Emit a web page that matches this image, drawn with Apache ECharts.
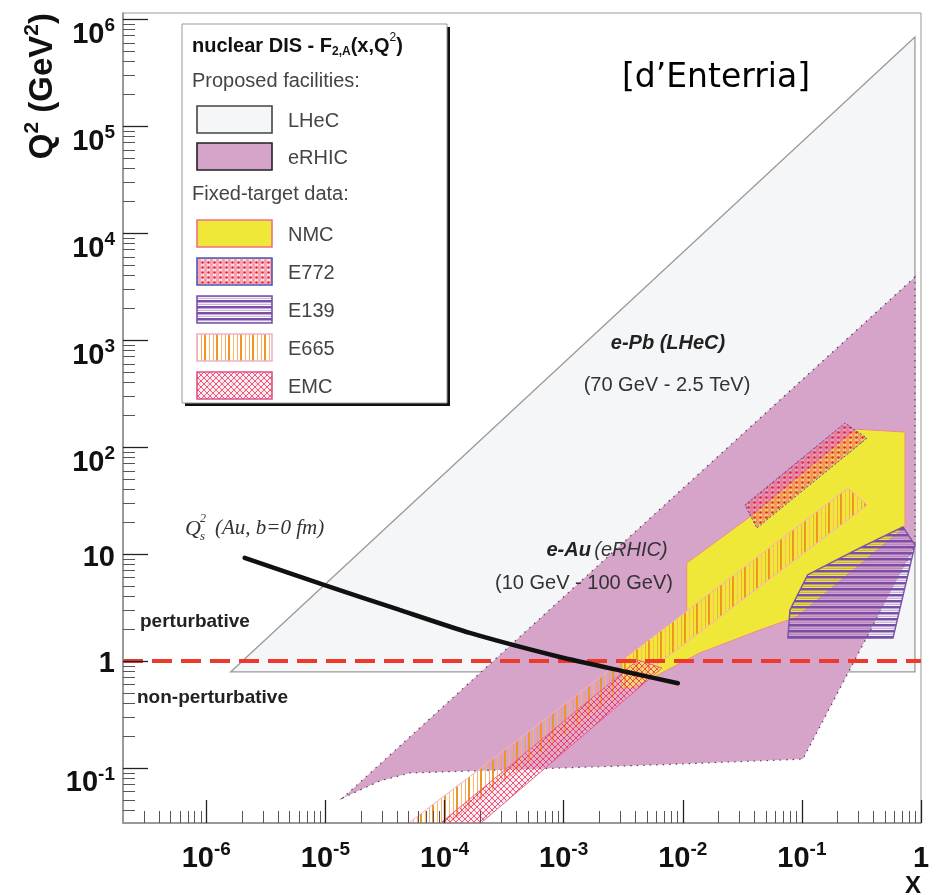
<!DOCTYPE html>
<html><head><meta charset="utf-8">
<script src="https://cdn.jsdelivr.net/npm/echarts@6/dist/echarts.min.js"></script>
<style>html,body{margin:0;padding:0;background:#fff}#c{width:936px;height:895px}</style>
</head><body><div id="c"></div>
<script>
// ---------- axis ranges & ticks ----------
const xMin = 2e-7, xMax = 1;
const yMin = 0.0306, yMax = 1.14e6;
const xTickValues = [1e-6, 1e-5, 1e-4, 1e-3, 1e-2, 1e-1, 1];
const xTickLabels = ['{b|10}{s|-6}', '{b|10}{s|-5}', '{b|10}{s|-4}', '{b|10}{s|-3}', '{b|10}{s|-2}', '{b|10}{s|-1}', '{b|1}'];
const yTickValues = [1e-1, 1, 10, 1e2, 1e3, 1e4, 1e5, 1e6];
const yTickLabels = ['{b|10}{s|-1}', '{p|1}', '{p|10}', '{b|10}{s|2}', '{b|10}{s|3}', '{b|10}{s|4}', '{b|10}{s|5}', '{b|10}{s|6}'];

// ---------- regions (x, Q^2) ----------
const lhecX = [1.6e-6, 0.89, 0.89];
const lhecY = [0.79, 6.8e5, 0.79];

const erhicX = [0.89, 1.40e-5, 2.86e-5, 5.1e-5, 6.06e-3, 0.102, 0.89];
const erhicY = [3880, 0.0525, 0.0756, 0.0898, 0.107, 0.121, 12.1];

const nmcX = [3.08e-3, 3.08e-3, 0.0108, 0.0108, 0.0373, 0.284, 0.734, 0.734, 0.0908, 0.0444, 0.0139, 7.35e-3, 3.81e-3];
const nmcY = [0.56, 1.02, 2.93, 8.24, 22.6, 147, 138, 17.9, 2.58, 1.95, 1.19, 0.82, 0.56];

const e665X = [4.9e-5, 0.244, 0.352, 1.06e-4];
const e665Y = [0.03, 41.4, 28.7, 0.03];

const emcX = [9.1e-5, 4.2e-3, 6.7e-3, 1.98e-4];
const emcY = [0.03, 1.02, 0.86, 0.03];

const e772X = [0.0332, 0.230, 0.352, 0.0419];
const e772Y = [28.7, 168, 121, 17.5];

const e139X = [0.0763, 0.0794, 0.112, 0.307, 0.706, 0.89, 0.582];
const e139Y = [1.64, 3.0, 6.4, 11.4, 17.9, 12.1, 1.64];

// saturation scale line Qs^2(Au, b=0 fm)
const qsX = [2.10e-6, 9.86e-6, 4.2e-5, 1.63e-4, 9.3e-4, 3.39e-3, 9.1e-3];
const qsY = [9.2, 5.13, 3.0, 1.83, 1.09, 0.79, 0.62];

// perturbative boundary Q^2 = 1 GeV^2
const boundX = [2e-7, 1];
const boundY = [1, 1];

// ---------- minor ticks (2..9 x 10^n) ----------
function minors(lo, hi, eLo, eHi) {
  const out = [];
  for (let e = eLo; e <= eHi; e++) for (let m = 2; m <= 9; m++) {
    const v = m * Math.pow(10, e);
    if (v > lo * 1.0001 && v < hi * 0.9999) out.push(v);
  }
  return out;
}
const xMinor = minors(xMin, xMax, -7, -1);
const yMinor = minors(yMin, yMax, -2, 5);

// ---------- patterns ----------
function pat(w, h, draw) {
  const c = document.createElement('canvas'); c.width = w; c.height = h;
  const g = c.getContext('2d'); draw(g);
  return { image: c, repeat: 'repeat' };
}
const patE665 = pat(12, 4, g => {
  g.fillStyle = '#f29424'; g.fillRect(0, 0, 2, 4);
  g.fillStyle = 'rgba(248,182,100,0.9)'; g.fillRect(5, 0, 1, 4);
  g.fillStyle = 'rgba(244,160,70,0.85)'; g.fillRect(9, 0, 1, 4);
});
const patEMC = pat(6, 6, g => {
  g.fillStyle = 'rgba(255,190,210,0.3)'; g.fillRect(0, 0, 6, 6);
  g.strokeStyle = 'rgba(228,30,70,0.8)'; g.lineWidth = 0.9;
  g.beginPath(); g.moveTo(0, 0); g.lineTo(6, 6); g.moveTo(6, 0); g.lineTo(0, 6); g.stroke();
});
const patE772 = pat(6, 5, g => {
  g.fillStyle = 'rgba(240,100,130,0.6)'; g.fillRect(0, 0, 3, 5);
  g.fillStyle = 'rgba(245,150,170,0.3)'; g.fillRect(3, 0, 3, 5);
  g.fillStyle = '#e3202a'; g.beginPath(); g.arc(4.5, 2.5, 1.3, 0, Math.PI * 2); g.fill();
});
const patE139 = pat(4, 6, g => {
  g.fillStyle = '#7a4ea6'; g.fillRect(0, 0, 4, 2.5);
  g.fillStyle = 'rgba(150,110,195,0.6)'; g.fillRect(0, 3.8, 4, 1);
});

const colLHeC = '#f4f6f8', colERHIC = '#d6a3c9', colNMC = '#f0e838';

// ---------- series builders ----------
function polySeries(name, xs, ys, style) {
  const pts = xs.map((x, i) => [x, ys[i]]);
  return {
    type: 'custom', name, coordinateSystem: 'cartesian2d', xAxisIndex: 0, yAxisIndex: 0,
    data: pts, clip: true, silent: true, encode: { x: 0, y: 1 },
    renderItem(params, api) {
      if (params.dataIndex !== 0) return null;
      return { type: 'polygon', shape: { points: pts.map(p => api.coord(p)) }, style: style };
    }
  };
}
function lineSeries(name, xs, ys, lineStyle, smooth) {
  return {
    type: 'line', name, xAxisIndex: 0, yAxisIndex: 0, data: xs.map((x, i) => [x, ys[i]]),
    showSymbol: false, symbol: 'none', smooth: smooth || false, silent: true, lineStyle
  };
}

const sans = '"Liberation Sans", Arial, Helvetica, sans-serif';
const richAxis = {
  b: { fontSize: 29, fontWeight: 'bold', fontFamily: sans, color: '#111', lineHeight: 30, padding: [16, 0, 0, 0], verticalAlign: 'top' },
  s: { fontSize: 19, fontWeight: 'bold', fontFamily: sans, color: '#111', lineHeight: 14, padding: [12, 0, 0, 0], verticalAlign: 'top' },
  p: { fontSize: 29, fontWeight: 'bold', fontFamily: sans, color: '#111', lineHeight: 30, padding: [4, 0, 0, 0], verticalAlign: 'top' }
};
function labelFor(values, labels) {
  return function (v) {
    let best = 0, bd = Infinity;
    values.forEach((t, i) => { const d = Math.abs(Math.log10(t) - Math.log10(v)); if (d < bd) { bd = d; best = i; } });
    return labels[best];
  };
}

// ---------- text helpers ----------
function T(x, y, text, font, fill, align, extra) {
  return Object.assign({
    type: 'text', x, y, z: 100, silent: true,
    style: { text, font, fill: fill || '#222', align: align || 'left', verticalAlign: 'middle', textAlign: align || 'left', textVerticalAlign: 'middle' }
  }, extra || {});
}
function R(x, y, w, h, fill, stroke, lw) {
  return { type: 'rect', z: 100, silent: true, shape: { x, y, width: w, height: h }, style: { fill, stroke, lineWidth: lw || 1 } };
}

const legendItems = [
  ['LHeC', colLHeC, '#444', 106],
  ['eRHIC', colERHIC, '#222', 143],
  ['NMC', colNMC, '#ee7080', 220],
  ['E772', patE772, '#4a5ab5', 258],
  ['E139', patE139, '#7a52a8', 296],
  ['E665', patE665, '#f2b0cc', 334],
  ['EMC', patEMC, '#e0508a', 372]
];

const graphics = [
  R(185, 27, 265, 379, '#111', null, 0),
  R(182, 24, 265, 379, '#fff', '#999', 1),
  {
    type: 'text', x: 192, y: 43, z: 101, silent: true,
    style: {
      text: '{h|nuclear DIS - F}{sub|2,A}{h|(x,Q}{sup|2}{h|)}', align: 'left', verticalAlign: 'middle',
      rich: {
        h: { fontSize: 20, fontWeight: 'bold', fontFamily: sans, fill: '#111', lineHeight: 22, padding: [4, 0, 0, 0], verticalAlign: 'top' },
        sub: { fontSize: 12, fontWeight: 'bold', fontFamily: sans, fill: '#111', lineHeight: 12, padding: [14, 0, 0, 0], verticalAlign: 'top' },
        sup: { fontSize: 12, fontFamily: sans, fill: '#111', lineHeight: 12, padding: [0, 0, 0, 0], verticalAlign: 'top' }
      }
    }
  },
  T(192, 81, 'Proposed facilities:', '20px ' + sans, '#444'),
  T(192, 194, 'Fixed-target data:', '20px ' + sans, '#444')
];
legendItems.forEach(([name, fill, stroke, y]) => {
  graphics.push(R(197, y, 75, 27, '#fff', null, 0));
  graphics.push(R(197, y, 75, 27, fill, stroke, 1.6));
  graphics.push(T(288, y + 15, name, '20px ' + sans, '#444'));
});

graphics.push(
  T(716, 78, '[d\u2019Enterria]', '33px "DejaVu Sans", sans-serif', '#000', 'center'),
  T(668, 343, 'e-Pb (LHeC)', 'italic bold 20px ' + sans, '#222', 'center'),
  T(667, 385, '(70 GeV - 2.5 TeV)', '20px ' + sans, '#333', 'center'),
  {
    type: 'text', x: 607, y: 550, z: 100, silent: true,
    style: {
      text: '{a|e-Au} {c|(eRHIC)}', align: 'center', verticalAlign: 'middle',
      rich: {
        a: { fontSize: 20, fontWeight: 'bold', fontStyle: 'italic', fontFamily: sans, fill: '#222' },
        c: { fontSize: 20, fontStyle: 'italic', fontFamily: sans, fill: '#333' }
      }
    }
  },
  T(584, 583, '(10 GeV - 100 GeV)', '20px ' + sans, '#333', 'center'),
  T(140, 622, 'perturbative', 'bold 19px ' + sans, '#222'),
  T(137, 698, 'non-perturbative', 'bold 19px ' + sans, '#222'),
  T(185, 529, 'Q', 'italic 22px "Liberation Serif", serif', '#333'),
  T(200, 519, '2', 'italic 12px "Liberation Serif", serif', '#333'),
  T(200, 537, 's', 'italic 13px "Liberation Serif", serif', '#333'),
  T(215, 528, '(Au, b=0 fm)', 'italic 21px "Liberation Serif", serif', '#333'),
  T(921, 886, 'X', 'bold 24px ' + sans, '#111', 'right'),
  {
    type: 'text', x: 34, y: 13, rotation: Math.PI / 2, z: 100, silent: true,
    style: {
      text: '{b|Q}{s|2}{b| (GeV}{s|2}{b|)}', align: 'right', verticalAlign: 'middle',
      rich: {
        b: { fontSize: 33, fontWeight: 'bold', fontFamily: sans, fill: '#111', lineHeight: 32, padding: [8, 0, 0, 0], verticalAlign: 'top' },
        s: { fontSize: 21, fontWeight: 'bold', fontFamily: sans, fill: '#111', lineHeight: 16, padding: [4, 0, 0, 0], verticalAlign: 'top' }
      }
    }
  }
);

const axisCommon = { type: 'log', logBase: 10, splitLine: { show: false }, minorTick: { show: false }, minorSplitLine: { show: false }, z: 10 };

const option = {
  animation: false,
  grid: { left: 123, right: 15, top: 13, bottom: 72, show: true, borderColor: '#999', borderWidth: 1, backgroundColor: '#fff', containLabel: false },
  xAxis: [
    Object.assign({}, axisCommon, {
      min: xMin, max: xMax, position: 'bottom',
      axisLine: { show: true, onZero: false, lineStyle: { color: '#888', width: 1.5 } },
      axisTick: { show: true, inside: true, length: 23, customValues: xTickValues, lineStyle: { color: '#222', width: 1.3 } },
      axisLabel: { show: true, customValues: xTickValues, margin: 5, formatter: labelFor(xTickValues, xTickLabels), rich: richAxis, hideOverlap: false, showMinLabel: true, showMaxLabel: true }
    }),
    Object.assign({}, axisCommon, {
      min: xMin, max: xMax, position: 'bottom',
      axisLine: { show: false, onZero: false },
      axisTick: { show: true, inside: true, length: 12, customValues: xMinor, lineStyle: { color: '#555', width: 1 } },
      axisLabel: { show: false }
    })
  ],
  yAxis: [
    Object.assign({}, axisCommon, {
      min: yMin, max: yMax, position: 'left',
      axisLine: { show: true, onZero: false, lineStyle: { color: '#888', width: 1.5 } },
      axisTick: { show: true, inside: true, length: 25, customValues: yTickValues, lineStyle: { color: '#222', width: 1.3 } },
      axisLabel: { show: true, customValues: yTickValues, margin: 8, formatter: labelFor(yTickValues, yTickLabels), rich: richAxis, hideOverlap: false, showMinLabel: true, showMaxLabel: true }
    }),
    Object.assign({}, axisCommon, {
      min: yMin, max: yMax, position: 'left',
      axisLine: { show: false, onZero: false },
      axisTick: { show: true, inside: true, length: 12, customValues: yMinor, lineStyle: { color: '#555', width: 1 } },
      axisLabel: { show: false }
    })
  ],
  graphic: { elements: graphics },
  series: [
    polySeries('LHeC', lhecX, lhecY, { fill: colLHeC, stroke: '#9a9a9a', lineWidth: 1.3 }),
    polySeries('eRHIC', erhicX, erhicY, { fill: colERHIC, stroke: '#5a3a55', lineWidth: 1.2, lineDash: [1.5, 5] }),
    polySeries('NMC', nmcX, nmcY, { fill: colNMC, stroke: '#f08a90', lineWidth: 1 }),
    polySeries('E665', e665X, e665Y, { fill: patE665, stroke: '#f2b0cc', lineWidth: 1 }),
    polySeries('EMC', emcX, emcY, { fill: patEMC, stroke: '#e8609a', lineWidth: 1 }),
    polySeries('E772', e772X, e772Y, { fill: patE772, stroke: '#4a5ab5', lineWidth: 1, lineDash: [2, 2] }),
    polySeries('E139', e139X, e139Y, { fill: patE139, stroke: '#7a52a8', lineWidth: 1.4 }),
    lineSeries('Q2 = 1 GeV2', boundX, boundY, { color: '#ee3a2c', width: 4, type: [20, 9] }),
    lineSeries('Qs2 (Au, b=0 fm)', qsX, qsY, { color: '#111', width: 4.5, cap: 'round' }, 0.2)
  ]
};

const chart = echarts.init(document.getElementById('c'));
chart.setOption(option);
</script></body></html>
